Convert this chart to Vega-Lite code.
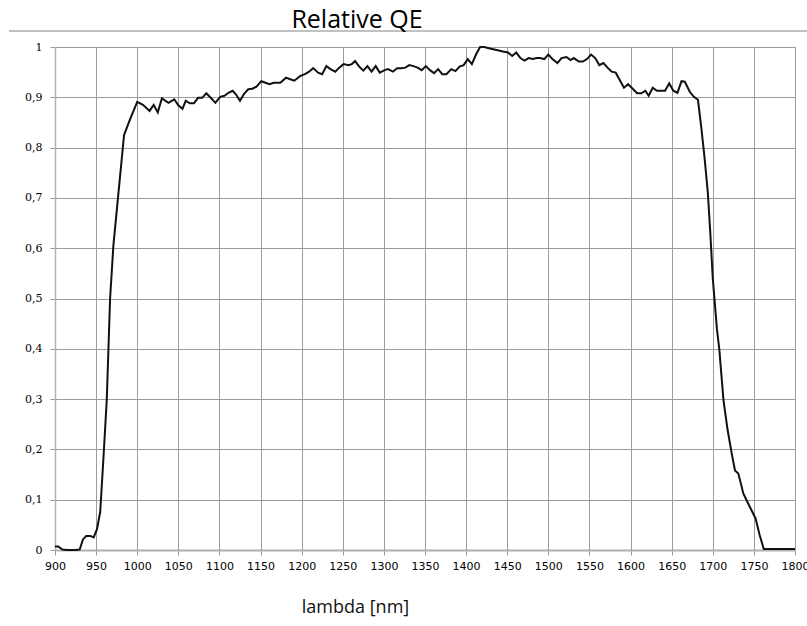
{
  "$schema": "https://vega.github.io/schema/vega-lite/v6.json",
  "width": 740,
  "height": 503,
  "autosize": "none",
  "padding": {"left": 55, "top": 47, "right": 12, "bottom": 76},
  "background": "white",
  "title": {"text": "Relative QE", "font": "Open Sans", "fontSize": 25, "fontWeight": "normal", "color": "#000000", "anchor": "middle", "frame": "group", "dx": -68, "offset": -23, "baseline": "alphabetic"},
  "config": {"view": {"stroke": null}},
  "data": {"values": [
    {"lambda": 900, "qe": 0.007}, {"lambda": 904, "qe": 0.007}, {"lambda": 909, "qe": 0.001}, {"lambda": 915, "qe": 0}, {"lambda": 920, "qe": 0}, {"lambda": 925, "qe": 0}, {"lambda": 930, "qe": 0.001}, {"lambda": 934, "qe": 0.021}, {"lambda": 938, "qe": 0.028}, {"lambda": 943, "qe": 0.028}, {"lambda": 947, "qe": 0.025}, {"lambda": 951, "qe": 0.041}, {"lambda": 955, "qe": 0.076}, {"lambda": 959, "qe": 0.185}, {"lambda": 963, "qe": 0.3}, {"lambda": 967, "qe": 0.5}, {"lambda": 971, "qe": 0.605}, {"lambda": 976, "qe": 0.69}, {"lambda": 984, "qe": 0.825}, {"lambda": 991, "qe": 0.855},
    {"lambda": 1000, "qe": 0.891}, {"lambda": 1007, "qe": 0.885}, {"lambda": 1015, "qe": 0.873}, {"lambda": 1020, "qe": 0.885}, {"lambda": 1025, "qe": 0.87}, {"lambda": 1030, "qe": 0.898}, {"lambda": 1038, "qe": 0.889}, {"lambda": 1045, "qe": 0.896}, {"lambda": 1050, "qe": 0.884}, {"lambda": 1055, "qe": 0.877}, {"lambda": 1059, "qe": 0.893}, {"lambda": 1064, "qe": 0.888}, {"lambda": 1069, "qe": 0.888}, {"lambda": 1074, "qe": 0.899}, {"lambda": 1079, "qe": 0.899}, {"lambda": 1084, "qe": 0.908}, {"lambda": 1090, "qe": 0.898}, {"lambda": 1095, "qe": 0.889},
    {"lambda": 1101, "qe": 0.901}, {"lambda": 1106, "qe": 0.903}, {"lambda": 1111, "qe": 0.909}, {"lambda": 1116, "qe": 0.913}, {"lambda": 1120, "qe": 0.906}, {"lambda": 1125, "qe": 0.893}, {"lambda": 1130, "qe": 0.907}, {"lambda": 1135, "qe": 0.916}, {"lambda": 1140, "qe": 0.917}, {"lambda": 1145, "qe": 0.921}, {"lambda": 1151, "qe": 0.932}, {"lambda": 1156, "qe": 0.929}, {"lambda": 1161, "qe": 0.926}, {"lambda": 1166, "qe": 0.929}, {"lambda": 1174, "qe": 0.929}, {"lambda": 1181, "qe": 0.939}, {"lambda": 1186, "qe": 0.936}, {"lambda": 1191, "qe": 0.933}, {"lambda": 1198, "qe": 0.942},
    {"lambda": 1204, "qe": 0.946}, {"lambda": 1209, "qe": 0.951}, {"lambda": 1214, "qe": 0.958}, {"lambda": 1220, "qe": 0.949}, {"lambda": 1225, "qe": 0.946}, {"lambda": 1230, "qe": 0.962}, {"lambda": 1235, "qe": 0.956}, {"lambda": 1241, "qe": 0.951}, {"lambda": 1245, "qe": 0.958}, {"lambda": 1251, "qe": 0.966}, {"lambda": 1257, "qe": 0.964}, {"lambda": 1261, "qe": 0.966}, {"lambda": 1265, "qe": 0.972}, {"lambda": 1270, "qe": 0.961}, {"lambda": 1275, "qe": 0.953}, {"lambda": 1280, "qe": 0.962}, {"lambda": 1285, "qe": 0.951}, {"lambda": 1290, "qe": 0.962}, {"lambda": 1295, "qe": 0.949},
    {"lambda": 1301, "qe": 0.954}, {"lambda": 1305, "qe": 0.956}, {"lambda": 1311, "qe": 0.951}, {"lambda": 1316, "qe": 0.958}, {"lambda": 1321, "qe": 0.958}, {"lambda": 1326, "qe": 0.959}, {"lambda": 1331, "qe": 0.964}, {"lambda": 1336, "qe": 0.962}, {"lambda": 1341, "qe": 0.959}, {"lambda": 1346, "qe": 0.954}, {"lambda": 1351, "qe": 0.962}, {"lambda": 1356, "qe": 0.954}, {"lambda": 1361, "qe": 0.948}, {"lambda": 1366, "qe": 0.956}, {"lambda": 1371, "qe": 0.946}, {"lambda": 1376, "qe": 0.946}, {"lambda": 1382, "qe": 0.956}, {"lambda": 1387, "qe": 0.952}, {"lambda": 1392, "qe": 0.961}, {"lambda": 1397, "qe": 0.964},
    {"lambda": 1402, "qe": 0.976}, {"lambda": 1407, "qe": 0.966}, {"lambda": 1412, "qe": 0.985}, {"lambda": 1417, "qe": 1.0}, {"lambda": 1422, "qe": 1.0}, {"lambda": 1429, "qe": 0.997}, {"lambda": 1437, "qe": 0.994}, {"lambda": 1445, "qe": 0.991}, {"lambda": 1451, "qe": 0.989}, {"lambda": 1456, "qe": 0.982}, {"lambda": 1461, "qe": 0.989}, {"lambda": 1466, "qe": 0.978}, {"lambda": 1471, "qe": 0.973}, {"lambda": 1476, "qe": 0.978}, {"lambda": 1481, "qe": 0.976}, {"lambda": 1486, "qe": 0.978}, {"lambda": 1490, "qe": 0.978}, {"lambda": 1495, "qe": 0.976},
    {"lambda": 1500, "qe": 0.985}, {"lambda": 1505, "qe": 0.976}, {"lambda": 1511, "qe": 0.968}, {"lambda": 1516, "qe": 0.978}, {"lambda": 1522, "qe": 0.98}, {"lambda": 1527, "qe": 0.974}, {"lambda": 1531, "qe": 0.978}, {"lambda": 1537, "qe": 0.971}, {"lambda": 1542, "qe": 0.971}, {"lambda": 1547, "qe": 0.976}, {"lambda": 1552, "qe": 0.985}, {"lambda": 1557, "qe": 0.978}, {"lambda": 1562, "qe": 0.964}, {"lambda": 1567, "qe": 0.968}, {"lambda": 1572, "qe": 0.959}, {"lambda": 1577, "qe": 0.951}, {"lambda": 1582, "qe": 0.949}, {"lambda": 1587, "qe": 0.934}, {"lambda": 1592, "qe": 0.919}, {"lambda": 1597, "qe": 0.926},
    {"lambda": 1602, "qe": 0.918}, {"lambda": 1608, "qe": 0.908}, {"lambda": 1613, "qe": 0.908}, {"lambda": 1618, "qe": 0.913}, {"lambda": 1622, "qe": 0.903}, {"lambda": 1627, "qe": 0.919}, {"lambda": 1632, "qe": 0.913}, {"lambda": 1637, "qe": 0.913}, {"lambda": 1642, "qe": 0.913}, {"lambda": 1647, "qe": 0.928}, {"lambda": 1652, "qe": 0.913}, {"lambda": 1657, "qe": 0.909}, {"lambda": 1662, "qe": 0.932}, {"lambda": 1666, "qe": 0.931}, {"lambda": 1672, "qe": 0.911}, {"lambda": 1677, "qe": 0.901}, {"lambda": 1682, "qe": 0.895}, {"lambda": 1686, "qe": 0.84}, {"lambda": 1690, "qe": 0.78}, {"lambda": 1694, "qe": 0.71}, {"lambda": 1697, "qe": 0.63},
    {"lambda": 1700, "qe": 0.54}, {"lambda": 1705, "qe": 0.44}, {"lambda": 1708, "qe": 0.398}, {"lambda": 1713, "qe": 0.298}, {"lambda": 1718, "qe": 0.239}, {"lambda": 1723, "qe": 0.192}, {"lambda": 1727, "qe": 0.158}, {"lambda": 1731, "qe": 0.152}, {"lambda": 1735, "qe": 0.127}, {"lambda": 1737, "qe": 0.113}, {"lambda": 1742, "qe": 0.096}, {"lambda": 1748, "qe": 0.076}, {"lambda": 1752, "qe": 0.063}, {"lambda": 1757, "qe": 0.03}, {"lambda": 1762, "qe": 0.002}, {"lambda": 1800, "qe": 0.002}
  ]},
  "resolve": {"scale": {"x": "independent", "y": "independent"}, "axis": {"x": "independent", "y": "independent"}},
  "layer": [
    {
      "mark": {"type": "rule", "color": "#c0c0c0", "strokeWidth": 1.5, "clip": false},
      "encoding": {
        "y": {"datum": 1.032, "type": "quantitative", "scale": {"domain": [0, 1], "nice": false, "zero": true}, "axis": null},
        "x": {"datum": 845, "type": "quantitative", "scale": {"domain": [900, 1800], "nice": false, "zero": false}, "axis": null},
        "x2": {"datum": 1815}
      }
    },
    {
      "mark": {"type": "line", "color": "#111111", "strokeWidth": 2},
      "encoding": {
        "x": {
          "field": "lambda", "type": "quantitative",
          "scale": {"domain": [900, 1800], "nice": false, "zero": false},
          "axis": {
            "title": "lambda [nm]",
            "values": [900, 950, 1000, 1050, 1100, 1150, 1200, 1250, 1300, 1350, 1400, 1450, 1500, 1550, 1600, 1650, 1700, 1750, 1800],
            "format": "d",
            "labelFlush": false, "labelOverlap": false, "labelBound": false,
            "grid": true, "gridColor": "#9c9c9c", "gridWidth": 1,
            "domainColor": "#b0b0b0", "domainWidth": 2,
            "tickColor": "#9c9c9c", "tickSize": 5,
            "labelFont": "DejaVu Sans", "labelFontSize": 11, "labelColor": "#000000", "labelPadding": 5,
            "titleFont": "Open Sans", "titleFontSize": 18, "titleFontWeight": "normal", "titleColor": "#111111",
            "titleX": 300, "titleY": 57, "titleAlign": "center", "titleBaseline": "middle"
          }
        },
        "y": {
          "field": "qe", "type": "quantitative",
          "scale": {"domain": [0, 1], "nice": false, "zero": true},
          "axis": {
            "title": null,
            "values": [0, 0.1, 0.2, 0.3, 0.4, 0.5, 0.6, 0.7, 0.8, 0.9, 1],
            "labelExpr": "replace(format(datum.value, '.1~f'), '.', ',')",
            "labelOverlap": false, "labelFlush": false,
            "grid": true, "gridColor": "#9c9c9c", "gridWidth": 1,
            "domainColor": "#b0b0b0", "domainWidth": 1.5,
            "tickColor": "#9c9c9c", "tickSize": 5,
            "labelFont": "DejaVu Serif", "labelFontSize": 11, "labelColor": "#000000", "labelPadding": 8
          }
        }
      }
    }
  ]
}
